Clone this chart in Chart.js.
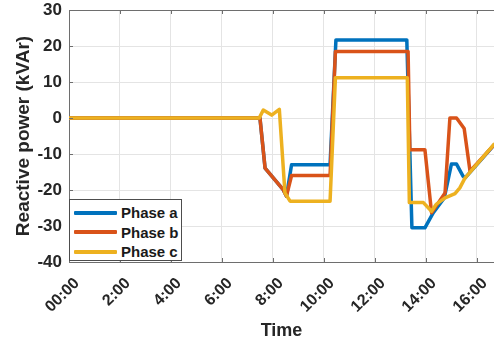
<!DOCTYPE html>
<html>
<head>
<meta charset="utf-8">
<script src="https://cdn.jsdelivr.net/npm/chart.js@4.4.1/dist/chart.umd.min.js"></script>
<style>
  html, body { margin: 0; padding: 0; background: #fff; }
  #wrap { position: relative; width: 494px; height: 345px; overflow: hidden; }
  .legend {
    position: absolute; left: 69px; top: 199px; width: 113px; height: 62px;
    background: #fff; border: 1px solid #4d4d4d; box-sizing: border-box;
    font: bold 15px "Liberation Sans", Arial, sans-serif; color: #1a1a1a;
    padding-top: 3px;
  }
  .legend .row { display: flex; align-items: center; height: 19.5px; }
  .legend .swatch { width: 43px; height: 4px; margin: 0 4px 0 4px; border-radius: 1px; }
</style>
</head>
<body>
<div id="wrap">
  <canvas id="reactiveChart"></canvas>
  <div class="legend">
    <div class="row"><span class="swatch" style="background:#0072BD"></span>Phase a</div>
    <div class="row"><span class="swatch" style="background:#D95319"></span>Phase b</div>
    <div class="row"><span class="swatch" style="background:#EDB120"></span>Phase c</div>
  </div>
</div>
<script>
// time in hours, reactive power in kVAr
const timeA  = [0, 7.49, 7.69, 8.4, 8.53, 8.73, 10.24, 10.47, 13.25, 13.45, 13.96, 14.29, 14.72, 15.0, 15.2, 15.46, 15.53, 16.67];
const phaseA = [0, 0, -13.9, -19.9, -21.7, -13, -13, 21.7, 21.7, -30.5, -30.5, -26.3, -22.2, -12.8, -12.8, -16.2, -16.7, -7.5];

const timeB  = [0, 7.49, 7.69, 8.4, 8.53, 8.73, 10.24, 10.45, 13.3, 13.37, 13.96, 14.22, 14.75, 14.94, 15.2, 15.5, 15.73, 16.67];
const phaseB = [0, 0, -13.9, -19.9, -21.7, -16, -16, 18.5, 18.5, -8.8, -8.8, -26.3, -20.8, 0, 0, -2.9, -14.8, -7.5];

const timeC  = [0, 7.46, 7.62, 7.95, 8.25, 8.47, 8.67, 10.24, 10.45, 13.27, 13.35, 13.9, 14.22, 14.4, 14.75, 15.14, 15.33, 15.53, 16.67];
const phaseC = [0, 0, 2.2, 0.8, 2.4, -20.8, -23.1, -23.1, 11.2, 11.2, -23.5, -23.5, -25.9, -24, -22.2, -21, -19.4, -16.7, -7.3];

const seriesNames = ['Phase a', 'Phase b', 'Phase c'];
const seriesColors = ['#0072BD', '#D95319', '#EDB120'];

const xMin = 0, xMax = 16.67, xStep = 2;
const yMin = -40, yMax = 30, yStep = 10;

const FONT = '"Liberation Sans", Arial, sans-serif';
const TEXT = '#262626';
const AXIS = '#6e6e6e';

const toPoints = (ts, vs) => ts.map((t, i) => ({ x: t, y: vs[i] }));
const series = [toPoints(timeA, phaseA), toPoints(timeB, phaseB), toPoints(timeC, phaseC)];

// box outline on top plus inward tick marks, like a framed axes
const frame = {
  id: 'frame',
  afterDraw(chart) {
    const { ctx, chartArea: a, scales } = chart;
    ctx.save();
    ctx.strokeStyle = AXIS;
    ctx.lineWidth = 1;
    ctx.beginPath();
    ctx.moveTo(a.left, a.top + 0.5);
    ctx.lineTo(a.right, a.top + 0.5);
    scales.x.ticks.forEach(t => {
      const px = Math.round(scales.x.getPixelForValue(t.value)) + 0.5;
      ctx.moveTo(px, a.bottom); ctx.lineTo(px, a.bottom - 4);
      ctx.moveTo(px, a.top); ctx.lineTo(px, a.top + 4);
    });
    scales.y.ticks.forEach(t => {
      const py = Math.round(scales.y.getPixelForValue(t.value)) + 0.5;
      ctx.moveTo(a.left, py); ctx.lineTo(a.left + 4, py);
    });
    ctx.stroke();
    ctx.restore();
  }
};

new Chart(document.getElementById('reactiveChart'), {
  type: 'line',
  data: {
    datasets: series.map((pts, i) => ({
      label: seriesNames[i],
      data: pts,
      borderColor: seriesColors[i],
      backgroundColor: seriesColors[i],
      borderWidth: 3.5,
      borderJoinStyle: 'round',
      borderCapStyle: 'round',
      pointRadius: 0,
      tension: 0,
      fill: false,
      order: 3 - i
    }))
  },
  options: {
    responsive: true,
    maintainAspectRatio: false,
    animation: false,
    layout: { padding: { top: 10, right: 0, bottom: 0, left: 0 } },
    plugins: { legend: { display: false }, tooltip: { enabled: false } },
    scales: {
      x: {
        type: 'linear',
        min: xMin,
        max: xMax,
        grid: { color: '#e4e4e4', drawTicks: false },
        border: { color: AXIS, width: 1 },
        ticks: {
          stepSize: xStep,
          includeBounds: false,
          autoSkip: false,
          minRotation: 45,
          maxRotation: 45,
          padding: 12,
          labelOffset: 8,
          color: TEXT,
          font: { family: FONT, size: 16, weight: 'bold' },
          callback: v => (v === 0 ? '00:00' : v + ':00')
        },
        title: {
          display: true,
          text: 'Time',
          color: TEXT,
          font: { family: FONT, size: 18, weight: 'bold' },
          padding: { top: 0, bottom: 3 }
        },
        afterFit(scale) {
          scale.height = 83;
          scale.paddingLeft = 0;
          scale.paddingRight = 0;
        }
      },
      y: {
        min: yMin,
        max: yMax,
        grid: { color: '#e4e4e4', drawTicks: false },
        border: { color: AXIS, width: 1 },
        ticks: {
          stepSize: yStep,
          padding: 7,
          color: TEXT,
          font: { family: FONT, size: 17, weight: 'bold' }
        },
        title: {
          display: true,
          text: 'Reactive power (kVAr)',
          color: TEXT,
          font: { family: FONT, size: 19, weight: 'bold' },
          padding: { top: 12, bottom: 0 }
        },
        afterFit(scale) {
          scale.width = 69;
          scale.paddingTop = 0;
          scale.paddingBottom = 0;
        }
      }
    }
  },
  plugins: [frame]
});
</script>
</body>
</html>
